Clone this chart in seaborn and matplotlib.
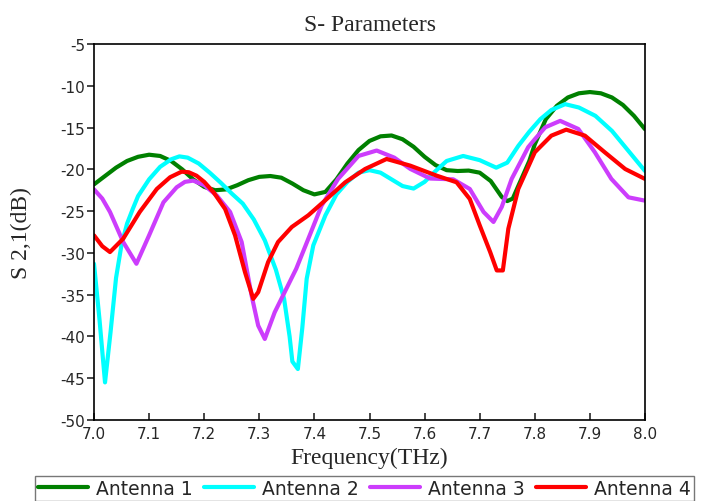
import numpy as np
import pandas as pd
import matplotlib
matplotlib.use('Agg')
import matplotlib.pyplot as plt
import seaborn as sns

# values
freq_1 = [7.00, 7.02, 7.04, 7.06, 7.08, 7.10, 7.12, 7.14, 7.16, 7.18, 7.20, 7.22, 7.24, 7.26,
          7.28, 7.30, 7.32, 7.34, 7.36, 7.38, 7.40, 7.42, 7.44, 7.46, 7.48, 7.50, 7.52, 7.54,
          7.56, 7.58, 7.60, 7.62, 7.64, 7.66, 7.68, 7.70, 7.72, 7.74, 7.75, 7.76, 7.78, 7.79,
          7.80, 7.82, 7.84, 7.86, 7.88, 7.90, 7.92, 7.94, 7.96, 7.98, 8.00]
s21_1 = [-21.8, -20.8, -19.8, -19.0, -18.5, -18.25, -18.4, -19.0, -20.0, -21.2, -22.1, -22.5,
         -22.4, -21.9, -21.3, -20.9, -20.8, -21.0, -21.7, -22.5, -23.0, -22.7, -21.2, -19.3,
         -17.7, -16.6, -16.05, -15.95, -16.4, -17.3, -18.5, -19.5, -20.1, -20.2, -20.15, -20.4,
         -21.4, -23.3, -23.8, -23.5, -20.5, -19.0, -17.0, -14.0, -12.4, -11.4, -10.9, -10.75,
         -10.9, -11.4, -12.3, -13.6, -15.2]

freq_2 = [7.000, 7.010, 7.020, 7.030, 7.040, 7.050, 7.060, 7.070, 7.080, 7.100, 7.120, 7.140,
          7.155, 7.170, 7.190, 7.210, 7.230, 7.250, 7.270, 7.290, 7.310, 7.330, 7.345, 7.355,
          7.360, 7.370, 7.378, 7.386, 7.398, 7.420, 7.440, 7.460, 7.480, 7.500, 7.520, 7.540,
          7.560, 7.580, 7.600, 7.620, 7.640, 7.670, 7.700, 7.730, 7.750, 7.770, 7.790, 7.810,
          7.830, 7.855, 7.880, 7.910, 7.940, 7.970, 8.000]
s21_2 = [-31.3, -38.0, -45.5, -39.5, -33.0, -29.0, -26.5, -24.8, -23.2, -21.2, -19.7, -18.8,
         -18.45, -18.6, -19.3, -20.4, -21.6, -22.9, -24.1, -26.0, -28.5, -32.0, -35.5, -40.0,
         -43.0, -43.9, -39.0, -33.1, -29.1, -25.5, -23.0, -21.5, -20.4, -20.1, -20.4, -21.2,
         -22.0, -22.3, -21.5, -20.2, -19.0, -18.4, -18.9, -19.8, -19.2, -17.2, -15.5, -14.0,
         -12.9, -12.2, -12.6, -13.6, -15.4, -17.8, -20.2]

freq_3 = [7.000, 7.015, 7.029, 7.053, 7.077, 7.100, 7.126, 7.150, 7.165, 7.180, 7.200, 7.223,
          7.247, 7.268, 7.286, 7.298, 7.310, 7.328, 7.346, 7.367, 7.389, 7.413, 7.443, 7.480,
          7.513, 7.545, 7.574, 7.610, 7.652, 7.682, 7.707, 7.725, 7.740, 7.758, 7.788, 7.800,
          7.819, 7.846, 7.879, 7.909, 7.939, 7.970, 8.000]
s21_3 = [-22.4, -23.5, -25.1, -28.7, -31.3, -27.9, -23.95, -22.15, -21.5, -21.35, -21.9, -23.15,
         -25.1, -28.7, -35.1, -38.7, -40.3, -37.1, -34.7, -31.9, -28.3, -24.35, -21.15, -18.4,
         -17.75, -18.6, -19.95, -21.1, -21.2, -22.35, -25.1, -26.3, -24.5, -21.15, -17.35, -16.4,
         -14.97, -14.2, -15.17, -17.96, -21.15, -23.35, -23.75]

freq_4 = [7.000, 7.015, 7.029, 7.053, 7.083, 7.114, 7.138, 7.159, 7.172, 7.186, 7.200, 7.217,
          7.238, 7.256, 7.274, 7.289, 7.298, 7.316, 7.334, 7.359, 7.389, 7.419, 7.456, 7.492,
          7.531, 7.574, 7.622, 7.658, 7.682, 7.700, 7.719, 7.731, 7.742, 7.752, 7.770, 7.800,
          7.830, 7.857, 7.891, 7.927, 7.964, 8.000]
s21_4 = [-27.9, -29.2, -29.9, -28.3, -25.1, -22.35, -20.95, -20.28, -20.35, -20.76, -21.5, -22.75,
         -24.75, -27.9, -32.3, -35.5, -34.7, -31.1, -28.7, -26.9, -25.5, -23.75, -21.55, -19.96,
         -18.76, -19.56, -20.76, -21.55, -23.55, -26.7, -29.9, -32.1, -32.1, -27.1, -22.35,
         -17.96, -15.97, -15.25, -15.97, -17.96, -19.96, -21.15]

names = ["Antenna 1", "Antenna 2", "Antenna 3", "Antenna 4"]
colors = ["#008000", "#00ffff", "#cc3dfc", "#ff0000"]
y_ticks = list(range(-50, 0, 5))
x_ticks = [7.0, 7.1, 7.2, 7.3, 7.4, 7.5, 7.6, 7.7, 7.8, 7.9, 8.0]

frames = []
for name, f, s in zip(names, [freq_1, freq_2, freq_3, freq_4], [s21_1, s21_2, s21_3, s21_4]):
    frames.append(pd.DataFrame({"freq": f, "s21": s, "antenna": name}))
df = pd.concat(frames, ignore_index=True)

sns.set_style("white")
plt.rcParams['font.family'] = ['DejaVu Sans']
plt.rcParams['axes.unicode_minus'] = False

fig = plt.figure(figsize=(7.05, 5.02), dpi=100)
ax = fig.add_axes([94 / 705, 1 - 421 / 502, 551 / 705, 376 / 502])

sns.lineplot(data=df, x="freq", y="s21", hue="antenna", palette=dict(zip(names, colors)),
             linewidth=3, ax=ax, legend=False, sort=False, estimator=None)

ax.set_xlim(7.0, 8.0)
ax.set_ylim(-50, -5)
ax.set_xticks(x_ticks)
ax.set_xticklabels(["{:.1f}".format(v) for v in x_ticks])
ax.set_yticks(y_ticks)
ax.tick_params(axis="y", direction="out", length=5, width=1.2, pad=1.5, labelsize=11, left=True)
ax.tick_params(axis="x", direction="in", length=5, width=1.2, pad=4, labelsize=11, bottom=True)

for side in ["left", "bottom", "right", "top"]:
    ax.spines[side].set_color("black")
    ax.spines[side].set_linewidth(1.2)

serif = ["Liberation Serif", "DejaVu Serif"]
ax.set_title("S- Parameters", family=serif, fontsize=17, pad=10)
ax.set_xlabel("Frequency(THz)", family=serif, fontsize=17)
ax.set_ylabel("S 2,1(dB)", family=serif, fontsize=17)
ax.xaxis.set_label_coords(0.5, -0.07)
ax.yaxis.set_label_coords(-0.112, 0.5)

handles = [plt.Line2D([], [], color=c, linewidth=3) for c in colors]
leg = fig.legend(handles, names, loc="upper left", bbox_to_anchor=(35 / 705, 1 - 477 / 502),
                 ncol=4, frameon=True, fancybox=False, fontsize=13.5, handlelength=2.65,
                 handletextpad=0.45, columnspacing=0.6, borderpad=0.15, borderaxespad=0)
leg.get_frame().set_edgecolor("#555555")
leg.get_frame().set_linewidth(1.0)

fig.savefig("out.png", dpi=100)
plt.close()
